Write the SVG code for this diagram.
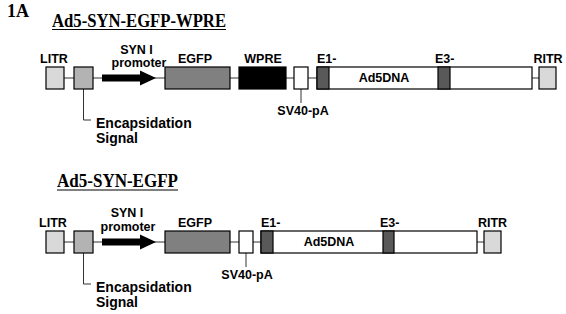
<svg xmlns="http://www.w3.org/2000/svg" width="566" height="314" viewBox="0 0 566 314">
<style>
.title{font-family:"Liberation Serif",serif;font-weight:bold;font-size:18px;fill:#000}
.lbl{font-family:"Liberation Sans",Arial,sans-serif;font-weight:bold;font-size:12.5px;fill:#000}
.big{font-family:"Liberation Sans",Arial,sans-serif;font-weight:bold;font-size:14px;fill:#000}
.bb{stroke:#333;stroke-width:1;fill:none}
.box{stroke:#000;stroke-width:1.2}
.itr{fill:#d9d9d9}
.enc{fill:#b3b3b3}
.egfp{fill:#808080}
.wpre{fill:#000}
.band{fill:#595959}
.wht{fill:#fff}
</style>
<rect width="566" height="314" fill="#fff"/>
<text class="title" x="7" y="17" font-size="14.5">1A</text>
<text class="title" x="52" y="26.5" textLength="174" lengthAdjust="spacingAndGlyphs">Ad5-SYN-EGFP-WPRE</text>
<line x1="52" y1="29.5" x2="226" y2="29.5" stroke="#000" stroke-width="1"/>
<text class="title" x="57" y="187" textLength="121" lengthAdjust="spacingAndGlyphs">Ad5-SYN-EGFP</text>
<line x1="57" y1="190" x2="178" y2="190" stroke="#000" stroke-width="1"/>

<g id="connectors">
<line class="bb" x1="64" y1="78" x2="539" y2="78"/>
<polyline class="bb" points="83.5,89 83.5,120 91,120"/>
<line class="bb" x1="301" y1="89" x2="301" y2="103"/>
<line class="bb" x1="64" y1="242" x2="484" y2="242"/>
<polyline class="bb" points="83.5,253 83.5,284 91,284"/>
<line class="bb" x1="246" y1="253" x2="246" y2="267"/>
</g>

<g id="construct1">
<g id="litr1"><rect class="box itr" x="46" y="67" width="18" height="22"/><text class="lbl" x="54" y="63" text-anchor="middle">LITR</text></g>
<g id="enc1"><rect class="box enc" x="74" y="67" width="19" height="22"/><text class="big" x="96" y="128">Encapsidation</text><text class="big" x="96" y="143">Signal</text></g>
<g id="syn1"><polygon fill="#000" points="102,74.5 140,74.5 140,70.5 156,78 140,85.5 140,81.5 102,81.5"/><text class="lbl" x="136.5" y="53.5" text-anchor="middle">SYN I</text><text class="lbl" x="139" y="67" text-anchor="middle">promoter</text></g>
<g id="egfp1"><rect class="box egfp" x="165" y="67" width="65" height="22"/><text class="lbl" x="195" y="63" text-anchor="middle">EGFP</text></g>
<g id="wpre1"><rect class="box wpre" x="239" y="67" width="47" height="22"/><text class="lbl" x="263" y="63" text-anchor="middle">WPRE</text></g>
<g id="sv401"><rect class="box wht" x="294" y="67" width="14" height="22"/><text class="lbl" x="303" y="115" text-anchor="middle">SV40-pA</text></g>
<g id="ad51"><rect class="box wht" x="317" y="67" width="215" height="22"/><rect class="box band" x="317" y="67" width="12" height="22"/><rect class="box band" x="438" y="67" width="12" height="22"/><text class="lbl" x="384" y="82" text-anchor="middle">Ad5DNA</text><text class="lbl" x="317" y="63">E1-</text><text class="lbl" x="435" y="63">E3-</text></g>
<g id="ritr1"><rect class="box itr" x="539" y="67" width="17" height="22"/><text class="lbl" x="548" y="63" text-anchor="middle">RITR</text></g>
</g>

<g id="construct2">
<g id="litr2"><rect class="box itr" x="46" y="231" width="18" height="22"/><text class="lbl" x="53" y="227" text-anchor="middle">LITR</text></g>
<g id="enc2"><rect class="box enc" x="74" y="231" width="19" height="22"/><text class="big" x="96" y="292">Encapsidation</text><text class="big" x="96" y="307">Signal</text></g>
<g id="syn2"><polygon fill="#000" points="102,238.5 140,238.5 140,234.5 156,242 140,249.5 140,245.5 102,245.5"/><text class="lbl" x="127" y="217" text-anchor="middle">SYN I</text><text class="lbl" x="128" y="230.5" text-anchor="middle">promoter</text></g>
<g id="egfp2"><rect class="box egfp" x="165" y="231" width="65" height="22"/><text class="lbl" x="195" y="227" text-anchor="middle">EGFP</text></g>
<g id="sv402"><rect class="box wht" x="239" y="231" width="14" height="22"/><text class="lbl" x="247" y="279" text-anchor="middle">SV40-pA</text></g>
<g id="ad52"><rect class="box wht" x="261" y="231" width="216" height="22"/><rect class="box band" x="261" y="231" width="12" height="22"/><rect class="box band" x="383" y="231" width="11" height="22"/><text class="lbl" x="329" y="246" text-anchor="middle">Ad5DNA</text><text class="lbl" x="261" y="227">E1-</text><text class="lbl" x="380" y="227">E3-</text></g>
<g id="ritr2"><rect class="box itr" x="484" y="231" width="17" height="22"/><text class="lbl" x="492.5" y="227" text-anchor="middle">RITR</text></g>
</g>
</svg>
